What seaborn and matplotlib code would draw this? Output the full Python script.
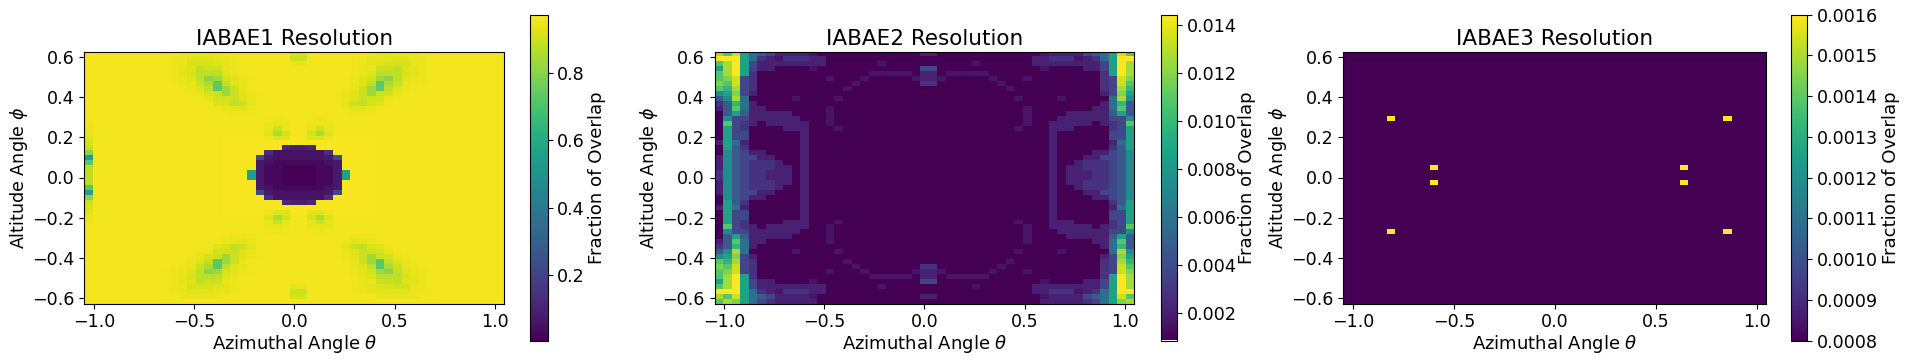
import numpy as np
import matplotlib
matplotlib.use("Agg")
import matplotlib.pyplot as plt
import seaborn as sns

sns.set_theme(style="white", rc={"xtick.bottom": True, "ytick.left": True})
plt.rcParams["font.family"] = ["DejaVu Sans"]

titles = ["IABAE1 Resolution", "IABAE2 Resolution", "IABAE3 Resolution"]
xlabel = r"Azimuthal Angle $\theta$"
ylabel = r"Altitude Angle $\phi$"
cbar_label = "Fraction of Overlap"
x_ticks = [-1.0, -0.5, 0.0, 0.5, 1.0]
y_ticks = [0.6, 0.4, 0.2, 0.0, -0.2, -0.4, -0.6]
x_limit = 1.047
y_limit = 0.628
color_ranges = [(0.0075, 0.972), (0.00086, 0.01442), (0.0008, 0.0016)]
cbar_ticks = [
    [0.2, 0.4, 0.6, 0.8],
    [0.002, 0.004, 0.006, 0.008, 0.010, 0.012, 0.014],
    [0.0008, 0.0009, 0.0010, 0.0011, 0.0012, 0.0013, 0.0014, 0.0015, 0.0016],
]
cbar_formats = ["%.1f", "%.3f", "%.4f"]

# Colour levels, one character per cell
levels_1 = {"Z": .962, ".": .955, "Y": .95, "X": .945, "W": .94, "V": .932, "U": .925,
            "T": .915, "S": .905, "R": .895, "Q": .885, "P": .875, "O": .85, "N": .83,
            "M": .80, "L": .73, "K": .55, "g": .22, "f": .14, "e": .12, "d": .09,
            "c": .07, "b": .05, "a": .03, "h": .0075}
# Upper-left quarter of panel 1 (the picture is mirrored about its centre)
quarter_1 = [
    ".........YYXWWXXY.......T",
    ".........YXWUUUVVXY.....R",
    ".........YXWSSTUVXY.....W",
    ".........YXVUQRRWXY......",
    ".........YXVTPPPUWY......",
    ".........YXWUPMNSUXY.....",
    "..........YXWROLPUWY.....",
    "...........YXUPLNRWY.....",
    "............YWSRNRUXY....",
    ".............YWSSRUWY....",
    "..............YUTQRVY....",
    "...............YWVUXY....",
    "Y...............YXXY.....",
    "Y....................YXY.",
    "Y....................WWX.",
    "X....................WRW.",
    "W....................UOS.",
    "U...............ZZZZZYUUZ",
    "T...............ZZZZZZZZZ",
    "R...............ZZZZZZZed",
    "M...............ZZZZZfbbb",
    "K...............ZZZZgcbbb",
    "L...............ZZZZcbaaa",
    "P...............ZZZZcaahh",
    "P...............ZZZKcaahh",
]
last_row_1 = "." * 25

levels_2 = {".": .00086, "a": .0016, "b": .0021, "c": .0028, "d": .0037, "e": .0047,
            "f": .0058, "g": .0074, "h": .0086, "i": .0098, "j": .0108, "k": .0118,
            "l": .0126, "m": .0134, "n": .01442}
# Upper-left quarter of panel 2
quarter_2 = [
    "ljmhfedbbbba............b",
    "nnnhfcbacccbb............",
    "jlnhdbbbbbbbb......a.....",
    "hlnhdbb....a............d",
    "jlnhc.............aaaaa.b",
    "jkmdc........a...a.....ab",
    "kjmdc...........a.......c",
    "jildc..........a.........",
    "ghkdb....................",
    "eglf.....a....a..........",
    "ceifb....................",
    "bejfbb.......a...........",
    ".ehebbbbb....a...........",
    ".gddbbbbbb...a...........",
    ".jdcb.bbbbb..a...........",
    ".hdc....bbb...a..........",
    ".hdd......b..............",
    ".hdd......b..............",
    "bhfb......b..............",
    ".hec......b..............",
    ".gedbb....b..............",
    "bgeddbb...b..............",
    "bgedcccb..b..............",
    "bgedcccbb.b..............",
    "cgedccbbb.b..............",
]
last_row_2 = "jlkhfdcbbbbb............."

# Panel 3: the few bright cells on a flat background
bright_rows = [13, 13, 23, 23, 26, 26, 36, 36]
bright_cols = [5, 44, 10, 39, 10, 39, 5, 44]


def unfold(quarter, last_row, levels):
    top = [row + row[:0:-1] for row in quarter]
    rows = top + top[::-1] + [last_row + last_row[:0:-1]]
    return np.array([[levels[ch] for ch in row] for row in rows])


grid_1 = unfold(quarter_1, last_row_1, levels_1)
grid_2 = unfold(quarter_2, last_row_2, levels_2)
grid_3 = np.full_like(grid_1, 0.0008)
grid_3[bright_rows, bright_cols] = 0.0016
grids = [grid_1, grid_2, grid_3]

fig = plt.figure(figsize=(19.06, 3.61), dpi=100)
W, H = 1906, 361
axes_px = [(84.5, 504.5), (714.5, 1134.5), (1343.5, 1766)]
cbar_px = [(530.5, 547.5), (1161.5, 1177.5), (1791.5, 1807.5)]
cbar_label_pads = [2, 0.5, 2.5]
top_px, bottom_px = 51.5, 303.5
cb_top, cb_bottom = 14.5, 340.5
FS = 12.6

for i in range(3):
    x0, x1 = axes_px[i]
    c0, c1 = cbar_px[i]
    ax = fig.add_axes([x0 / W, 1 - bottom_px / H, (x1 - x0) / W, (bottom_px - top_px) / H])
    cax = fig.add_axes([c0 / W, 1 - cb_bottom / H, (c1 - c0) / W, (cb_bottom - cb_top) / H])
    vmin, vmax = color_ranges[i]
    sns.heatmap(grids[i], ax=ax, cbar_ax=cax, cmap="viridis", vmin=vmin, vmax=vmax,
                xticklabels=False, yticklabels=False,
                cbar_kws={"ticks": cbar_ticks[i], "format": cbar_formats[i]})
    rows, cols = grids[i].shape
    ax.set_xticks([(v + x_limit) / (2 * x_limit) * cols for v in x_ticks])
    ax.set_xticklabels([f"{v:.1f}".replace("-", "\u2212") for v in x_ticks], fontsize=FS)
    ax.set_yticks([(y_limit - v) / (2 * y_limit) * rows for v in y_ticks])
    ax.set_yticklabels([f"{v:.1f}".replace("-", "\u2212") for v in y_ticks], fontsize=FS,
                       rotation=0)
    ax.tick_params(axis="x", length=3.5, width=0.8, color="black", labelcolor="black",
                   bottom=True, pad=3.2)
    ax.tick_params(axis="y", length=3.5, width=0.8, color="black", labelcolor="black",
                   left=True, pad=3.5)
    for spine in ax.spines.values():
        spine.set_visible(True)
        spine.set_color("black")
        spine.set_linewidth(0.8)
    ax.set_xlabel(xlabel, fontsize=13, color="black", labelpad=1.5)
    ax.set_ylabel(ylabel, fontsize=FS, color="black", labelpad=2)
    ax.set_title(titles[i], fontsize=15.5, color="black", pad=4.5)
    cb = ax.collections[0].colorbar
    cb.outline.set_visible(True)
    cb.outline.set_edgecolor("black")
    cb.outline.set_linewidth(0.8)
    cb.ax.set_ylim(vmin, vmax)
    cax.tick_params(axis="y", length=3.5, width=0.8, color="black", labelcolor="black",
                    labelsize=FS, right=True, pad=3.5)
    cb.set_label(cbar_label, fontsize=13.1, color="black", labelpad=cbar_label_pads[i])

fig.savefig("out.png", dpi=100)
